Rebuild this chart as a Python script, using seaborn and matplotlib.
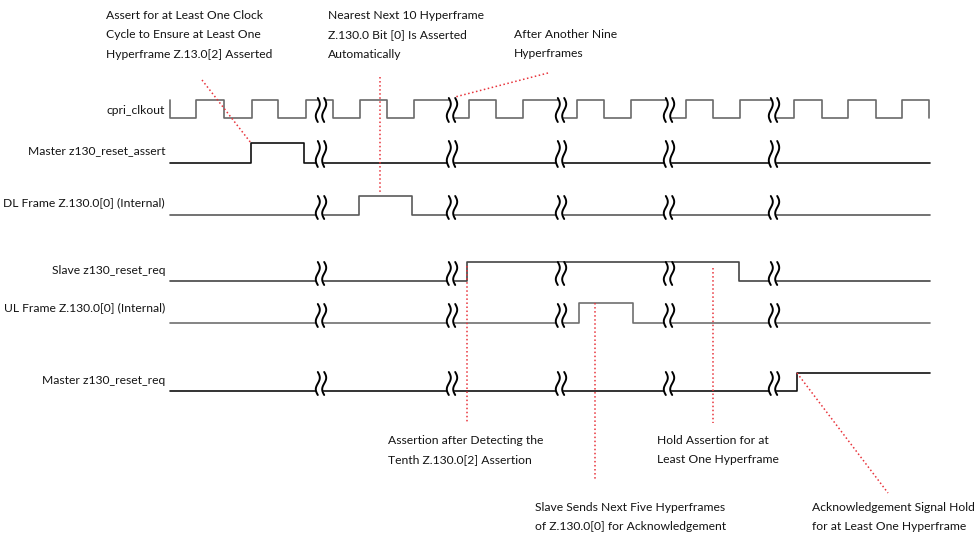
import numpy as np
import pandas as pd
import seaborn as sns
import matplotlib.pyplot as plt

# signal names and edge times (time axis in drawing units, left to right)
signal_names = ["cpri_clkout", "Master z130_reset_assert", "DL Frame Z.130.0[0] (Internal)",
                "Slave z130_reset_req", "UL Frame Z.130.0[0] (Internal)", "Master z130_reset_req"]
clk_edges = [170, 196, 224, 252, 278, 306, 333, 360, 387, 414, 452, 469, 496, 523, 561,
             577, 604, 631, 669, 686, 713, 740, 774, 794, 822, 848, 876, 902, 929]
assert_edges = [251, 304]
dl_edges = [359, 412]
slave_edges = [467, 739]
ul_edges = [579, 633]
master_req_edges = [797]
signal_edges = [clk_edges, assert_edges, dl_edges, slave_edges, ul_edges, master_req_edges]
start_levels = [1, 0, 0, 0, 0, 0]
t_start, t_end = 170, 930
breaks = [321, 452, 561, 669, 774]

sns.set_theme(style="white")
plt.rcParams['font.family'] = ['Lato', 'DejaVu Sans']

fig = plt.figure(figsize=(9.74, 5.37), dpi=100)
ax = fig.add_axes([0, 0, 1, 1])
ax.set_xlim(0, 974)
ax.set_ylim(537, 0)
ax.axis('off')

row_low = [118, 163, 215, 281, 323, 391]
row_h = [18, 20, 19, 19, 20, 18]
row_col = ['#6a6a6a', '#111111', '#5a5a5a', '#444444', '#707070', '#111111']
label_dy = [-8, -12, -12, -10, -15, -11]
fs = 8.7
txt_col = '#141414'

for name, edges, lvl0, low, h, col, dy in zip(signal_names, signal_edges, start_levels,
                                              row_low, row_h, row_col, label_dy):
    ts = [t_start]
    lv = [lvl0]
    cur = lvl0
    for e in edges:
        cur = 1 - cur
        ts.append(e)
        lv.append(cur)
    if ts[-1] < t_end and name != "cpri_clkout":
        ts.append(t_end)
        lv.append(cur)
    df = pd.DataFrame({'t': ts, 'level': lv})
    df['y'] = low - df['level'] * h
    sns.lineplot(data=df, x='t', y='y', sort=False, estimator=None, drawstyle='steps-post',
                 color=col, lw=1.2, ax=ax)
    ax.text(165, low + dy, name, ha='right', va='center', fontsize=fs, color=txt_col)

    # break marks
    top = low - h - 2 if name in ("cpri_clkout", "Master z130_reset_assert") else low - 19
    bot = low + 4
    yy = np.linspace(top, bot, 60)
    wig = 2.0 * np.sin(2 * np.pi * (yy - top) / (bot - top))
    for b in breaks:
        ax.fill_betweenx(yy, b - 3.5 + wig, b + 3.5 + wig, color='white', zorder=3, lw=0)
        for off in (-3.2, 3.2):
            ax.plot(b + off + wig, yy, color='black', lw=1.4, zorder=4)
ax.set_xlabel('')
ax.set_ylabel('')

red = '#e8333b'
txt_kw = dict(fontsize=fs, color=txt_col, va='center', ha='left', linespacing=1.9)

# annotations: text position, then dotted pointer
ax.text(106, 35, "Assert for at Least One Clock\nCycle to Ensure at Least One\nHyperframe Z.13.0[2] Asserted", **txt_kw)
ax.plot([202, assert_edges[0]], [80, 143], color=red, ls=':', lw=1.1)

ax.text(328, 35, "Nearest Next 10 Hyperframe\nZ.130.0 Bit [0] Is Asserted\nAutomatically", **txt_kw)
ax.plot([380, 380], [77, 192], color=red, ls=':', lw=1.1)

ax.text(514, 44, "After Another Nine\nHyperframes", **txt_kw)
ax.plot([548, 455], [73, 97], color=red, ls=':', lw=1.1)

ax.text(388, 450, "Assertion after Detecting the\nTenth Z.130.0[2] Assertion", **txt_kw)
ax.plot([slave_edges[0], slave_edges[0]], [266, 423], color=red, ls=':', lw=1.1)

ax.text(535, 517, "Slave Sends Next Five Hyperframes\nof Z.130.0[0] for Acknowledgement", **txt_kw)
ax.plot([595, 595], [303, 480], color=red, ls=':', lw=1.1)

ax.text(657, 450, "Hold Assertion for at\nLeast One Hyperframe", **txt_kw)
ax.plot([713, 713], [268, 423], color=red, ls=':', lw=1.1)

ax.text(812, 517, "Acknowledgement Signal Hold\nfor at Least One Hyperframe", **txt_kw)
ax.plot([master_req_edges[0], 888], [373, 493], color=red, ls=':', lw=1.1)

fig.savefig('out.png', dpi=100, facecolor='white')
